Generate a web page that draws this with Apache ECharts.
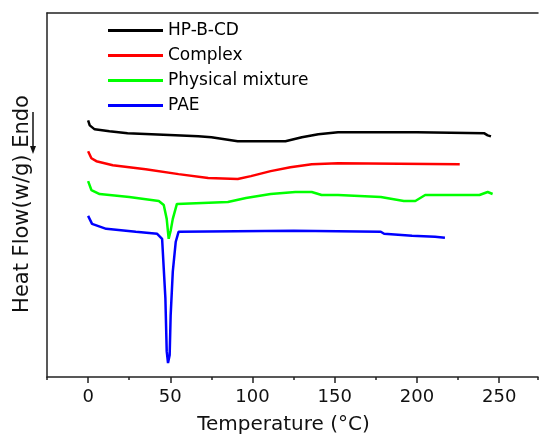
<!DOCTYPE html>
<html>
<head>
<meta charset="utf-8">
<script src="https://cdn.jsdelivr.net/npm/echarts@6/dist/echarts.min.js"></script>
<style>
  html, body { margin: 0; padding: 0; background: #fff; }
  #chart { width: 541px; height: 440px; }
</style>
</head>
<body>
<div id="chart"></div>
<script>
// DSC curves, heat flow in arbitrary units (endo down)
const seriesNames = ["HP-B-CD", "Complex", "Physical mixture", "PAE"];
const seriesColors = ["#000000", "#ff0000", "#00ff00", "#0000ff"];

const hpbcdTemp = [0, 1, 4, 13, 24, 53, 67, 75, 91, 100, 120, 130, 140, 152, 200, 241, 243, 245];
const hpbcdFlow = [25.8, 25.3, 24.9, 24.7, 24.5, 24.3, 24.2, 24.1, 23.7, 23.7, 23.7, 24.1, 24.4, 24.6, 24.6, 24.5, 24.3, 24.2];

const complexTemp = [0, 2, 5, 15, 35, 55, 73, 91, 99, 111, 123, 136, 152, 226];
const complexFlow = [22.7, 22.0, 21.7, 21.3, 20.9, 20.4, 20.0, 19.9, 20.2, 20.7, 21.1, 21.4, 21.5, 21.4];

const mixTemp = [0, 2, 7, 25, 43, 46, 47.8, 49, 50.2, 51.5, 54, 55, 85, 96, 111, 126, 136, 142, 152, 178, 192, 199, 205, 238, 243, 246];
const mixFlow = [19.7, 18.8, 18.4, 18.1, 17.7, 17.3, 15.9, 13.9, 14.7, 15.9, 17.4, 17.6, 17.6, 18.0, 18.4, 18.6, 18.6, 18.3, 18.3, 18.1, 17.7, 17.7, 18.3, 18.3, 18.6, 18.4];

const paeTemp = [0, 2.4, 11, 29, 42, 45, 46, 47, 47.8, 48.6, 49.6, 50.2, 51.5, 53.3, 55, 125, 178, 180, 197, 211, 217];
const paeFlow = [16.2, 15.4, 14.9, 14.6, 14.4, 13.9, 10.9, 7.9, 2.6, 1.4, 2.2, 6.2, 10.6, 13.6, 14.6, 14.7, 14.6, 14.4, 14.2, 14.1, 14.0];

const xTickLabels = [0, 50, 100, 150, 200, 250];

const temps = [hpbcdTemp, complexTemp, mixTemp, paeTemp];
const flows = [hpbcdFlow, complexFlow, mixFlow, paeFlow];

const chart = echarts.init(document.getElementById("chart"));
const axisColor = "#222";

const option = {
  animation: false,
  grid: { left: 47, right: 0, top: 13, bottom: 61 },
  legend: {
    data: seriesNames,
    orient: "vertical",
    left: 103,
    top: 17,
    itemWidth: 55,
    itemHeight: 3,
    itemGap: 8,
    icon: "rect",
    selectedMode: false,
    textStyle: { fontFamily: "DejaVu Sans", fontSize: 17, color: "#000" }
  },
  xAxis: [
    {
      type: "value",
      min: -25,
      max: 273.6,
      interval: 25,
      position: "bottom",
      name: "Temperature (°C)",
      nameLocation: "middle",
      nameGap: 38,
      nameTextStyle: { fontFamily: "DejaVu Sans", fontSize: 20, color: "#111", padding: [0, 18, 0, 0] },
      axisLine: { show: true, onZero: false, lineStyle: { color: axisColor, width: 1.5 } },
      axisTick: { show: true, inside: false, length: 3, lineStyle: { color: axisColor, width: 1.5 } },
      axisLabel: {
        margin: 11,
        fontFamily: "DejaVu Sans",
        fontSize: 18,
        color: "#111",
        formatter: v => (xTickLabels.indexOf(v) >= 0 ? String(v) : "")
      },
      splitLine: { show: false }
    },
    {
      type: "value",
      min: -25,
      max: 273.6,
      position: "bottom",
      axisLine: { show: false, onZero: false },
      axisTick: { show: true, length: 6, customValues: xTickLabels, lineStyle: { color: axisColor, width: 1.5 } },
      axisLabel: { show: false },
      splitLine: { show: false }
    },
    {
      type: "value",
      min: -25,
      max: 273.6,
      position: "top",
      axisLine: { show: true, onZero: false, lineStyle: { color: axisColor, width: 1.5 } },
      axisTick: { show: false },
      axisLabel: { show: false },
      splitLine: { show: false }
    }
  ],
  yAxis: {
    type: "value",
    min: 0,
    max: 36.6,
    position: "left",
    name: "Heat Flow(w/g) Endo",
    nameLocation: "middle",
    nameRotate: 90,
    nameGap: 14,
    nameTextStyle: { fontFamily: "DejaVu Sans", fontSize: 21, color: "#111", padding: [0, 18, 0, 0] },
    axisLine: { show: true, onZero: false, lineStyle: { color: axisColor, width: 1.5 } },
    axisTick: { show: false },
    axisLabel: { show: false },
    splitLine: { show: false }
  },
  graphic: [
    { type: "line", shape: { x1: 33, y1: 112, x2: 33, y2: 148 }, style: { stroke: "#111", lineWidth: 1.5 } },
    { type: "polygon", shape: { points: [[30, 146], [36, 146], [33, 154]] }, style: { fill: "#111" } }
  ],
  series: seriesNames.map((name, i) => ({
    name: name,
    type: "line",
    xAxisIndex: 0,
    showSymbol: false,
    color: seriesColors[i],
    lineStyle: { width: 2.5, color: seriesColors[i] },
    data: temps[i].map((t, j) => [t, flows[i][j]])
  }))
};

chart.setOption(option);
</script>
</body>
</html>
